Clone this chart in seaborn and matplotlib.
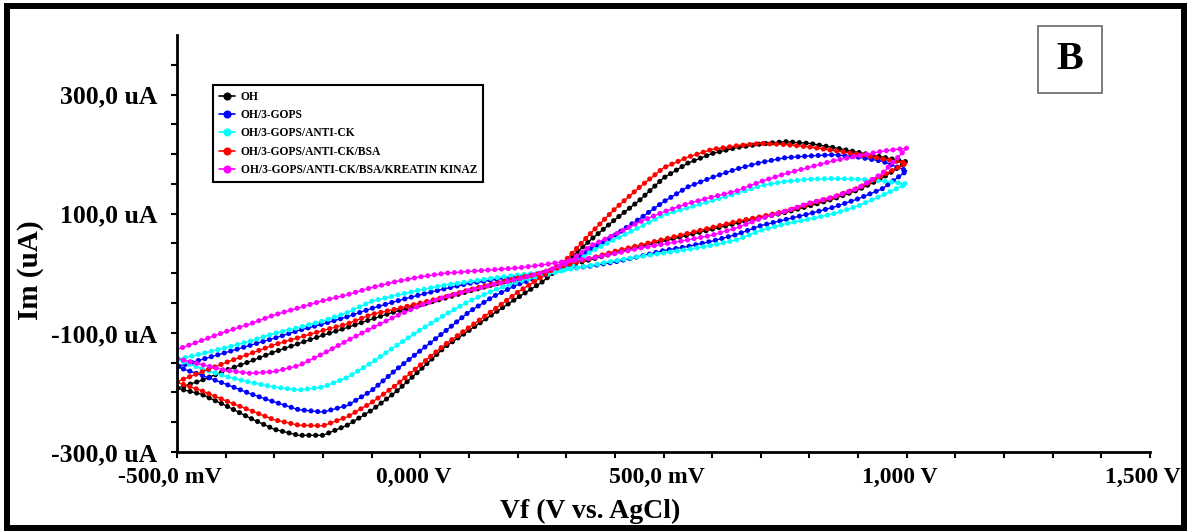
import numpy as np
import pandas as pd
import matplotlib
matplotlib.use("Agg")
import matplotlib.pyplot as plt
from matplotlib.lines import Line2D
from matplotlib.patches import Rectangle
from matplotlib.transforms import ScaledTranslation
import seaborn as sns

# potential grid (mV) for both sweep directions
potential_mv = [-500, -450, -400, -350, -300, -250, -200, -150, -100, -50,
                0, 50, 100, 150, 200, 250, 300, 350, 400, 450,
                500, 550, 600, 650, 700, 750, 800, 850, 900, 950, 1000]

# current (uA): branch with the peaks / shallow branch
oh_peak = [-193, -203, -222, -243, -262, -272, -272, -255, -230, -199,
           -162, -124, -96, -68, -41, -15, 19, 56, 90, 122,
           160, 185, 201, 211, 217, 221, 218, 211, 203, 195, 187]
oh_flat = [-193, -180, -163, -148, -132, -118, -104, -91, -77, -64,
           -53, -42, -30, -19, -9, 0, 12, 23, 34, 44,
           54, 64, 74, 84, 93, 102, 113, 125, 140, 160, 187]

gops_peak = [-157, -171, -186, -202, -216, -229, -233, -222, -197, -162,
             -130, -98, -65, -39, -19, -4, 12, 40, 64, 91,
             120, 145, 161, 175, 186, 194, 197, 199, 195, 188, 172]
gops_flat = [-157, -145, -133, -121, -109, -96, -85, -73, -59, -47,
             -36, -26, -17, -11, -5, 0, 7, 12, 19, 28,
             38, 45, 54, 65, 80, 90, 100, 111, 125, 142, 172]

antick_peak = [-145, -160, -173, -183, -191, -196, -191, -175, -150, -122,
               -95, -70, -47, -29, -14, -4, 6, 36, 57, 77,
               98, 110, 122, 134, 147, 154, 158, 159, 158, 155, 150]
antick_flat = [-145, -135, -125, -114, -101, -91, -80, -66, -47, -37,
               -28, -20, -14, -8, -3, 1, 6, 13, 21, 28,
               34, 40, 47, 56, 72, 83, 91, 100, 113, 131, 150]

bsa_peak = [-183, -197, -214, -230, -246, -255, -256, -241, -217, -188,
            -154, -120, -91, -62, -32, -6, 23, 67, 108, 144,
            177, 195, 208, 214, 218, 216, 212, 206, 200, 192, 185]
bsa_flat = [-182, -166, -150, -135, -120, -108, -96, -85, -69, -60,
            -50, -40, -28, -18, -8, 0, 14, 25, 37, 47,
            57, 67, 77, 87, 95, 104, 116, 128, 143, 164, 185]

ck_peak = [-143, -153, -163, -168, -165, -155, -135, -113, -92, -72,
           -54, -40, -29, -19, -10, 1, 16, 46, 65, 86,
           103, 117, 128, 138, 154, 167, 178, 189, 197, 205, 210]
ck_flat = [-128, -113, -98, -85, -70, -58, -46, -36, -24, -14,
           -6, 0, 3, 6, 9, 14, 20, 25, 33, 42,
           49, 56, 64, 76, 92, 104, 118, 128, 143, 168, 210]

labels = ["OH", "OH/3-GOPS", "OH/3-GOPS/ANTI-CK", "OH/3-GOPS/ANTI-CK/BSA",
          "OH/3-GOPS/ANTI-CK/BSA/KREATIN KINAZ"]
colors = ["#000000", "#0000ff", "#00ffff", "#ff0000", "#ff00ff"]
peaks = [oh_peak, gops_peak, antick_peak, bsa_peak, ck_peak]
flats = [oh_flat, gops_flat, antick_flat, bsa_flat, ck_flat]

xtick_pos = [-500, 0, 500, 1000, 1500]
xtick_labels = ["-500,0 mV", "0,000 V", "500,0 mV", "1,000 V", "1,500 V"]
ytick_pos = [-300, -100, 100, 300]
ytick_labels = ["-300,0 uA", "-100,0 uA", "100,0 uA", "300,0 uA"]

sns.set_style("ticks")
plt.rcParams["font.family"] = ["Liberation Serif", "DejaVu Serif"]
plt.rcParams["font.weight"] = "bold"
plt.rcParams["text.color"] = "black"
plt.rcParams["axes.labelcolor"] = "black"
plt.rcParams["xtick.color"] = "black"
plt.rcParams["ytick.color"] = "black"

fig = plt.figure(figsize=(11.89, 5.31), dpi=100)
ax = fig.add_axes([0.1489, 0.1488, 0.8183, 0.7853])

for lab, col, pk, fl in zip(labels, colors, peaks, flats):
    loop = pd.DataFrame({
        "E": potential_mv + potential_mv[::-1],
        "I": pk + fl[::-1],
    })
    sns.lineplot(data=loop, x="E", y="I", sort=False, estimator=None,
                 color=col, lw=1.0, ax=ax)
    sns.lineplot(data=loop, x="E", y="I", sort=False, estimator=None,
                 color=col, lw=3.7, linestyle=(0, (0.01, 1.3)),
                 dash_capstyle="round", ax=ax)

ax.set_xlim(-500, 1500)
ax.set_ylim(-300, 400)
ax.set_xticks(xtick_pos)
ax.set_xticklabels(xtick_labels)
ax.set_xticks(np.arange(-500, 1501, 100), minor=True)
ax.set_yticks(ytick_pos)
ax.set_yticklabels(ytick_labels)
ax.set_yticks(np.arange(-300, 351, 50), minor=True)

for side in ["top", "right"]:
    ax.spines[side].set_visible(False)
for side in ["left", "bottom"]:
    ax.spines[side].set_linewidth(2)
    ax.spines[side].set_color("black")

ax.tick_params(axis="both", which="both", direction="out", length=4,
               width=1.5, color="black", labelcolor="black")
ax.tick_params(axis="y", labelsize=18.5, pad=10)
ax.tick_params(axis="x", labelsize=17, pad=7)

# x tick labels sit a little left of their ticks in the original
shift = ScaledTranslation(-7 / 100, 0, fig.dpi_scale_trans)
for t in ax.get_xticklabels():
    t.set_transform(t.get_transform() + shift)

ax.set_xlabel("Vf (V vs. AgCl)", fontsize=20, fontweight="bold")
ax.xaxis.set_label_coords(0.425, -0.112)
ax.set_ylabel("Im (uA)", fontsize=21, fontweight="bold")
ax.yaxis.set_label_coords(-0.137, 0.436)

handles = [Line2D([0], [0], color=c, lw=1.2, marker="o", markersize=4.8)
           for c in colors]
leg = ax.legend(handles, labels, loc="upper left",
                bbox_to_anchor=(0.037, 0.880), borderaxespad=0,
                prop={"family": "Liberation Serif", "weight": "bold", "size": 8.3},
                frameon=True, fancybox=False, framealpha=1, edgecolor="black",
                borderpad=0.5, labelspacing=0.55, handlelength=1.4,
                handletextpad=0.5)
leg.get_frame().set_linewidth(1.5)

# panel letter box
fig.add_artist(Rectangle((0.873, 0.825), 0.0538, 0.126, transform=fig.transFigure,
                         facecolor="white", edgecolor="#666666", lw=1.2))
fig.text(0.900, 0.888, "B", fontsize=29, fontweight="bold",
         ha="center", va="center")

# outer frame
fig.add_artist(Rectangle((7 / 1189, 0.0057), 1177 / 1189, 0.983,
                         transform=fig.transFigure, fill=False,
                         edgecolor="black", lw=4.3))

fig.savefig("out.png", dpi=100)
